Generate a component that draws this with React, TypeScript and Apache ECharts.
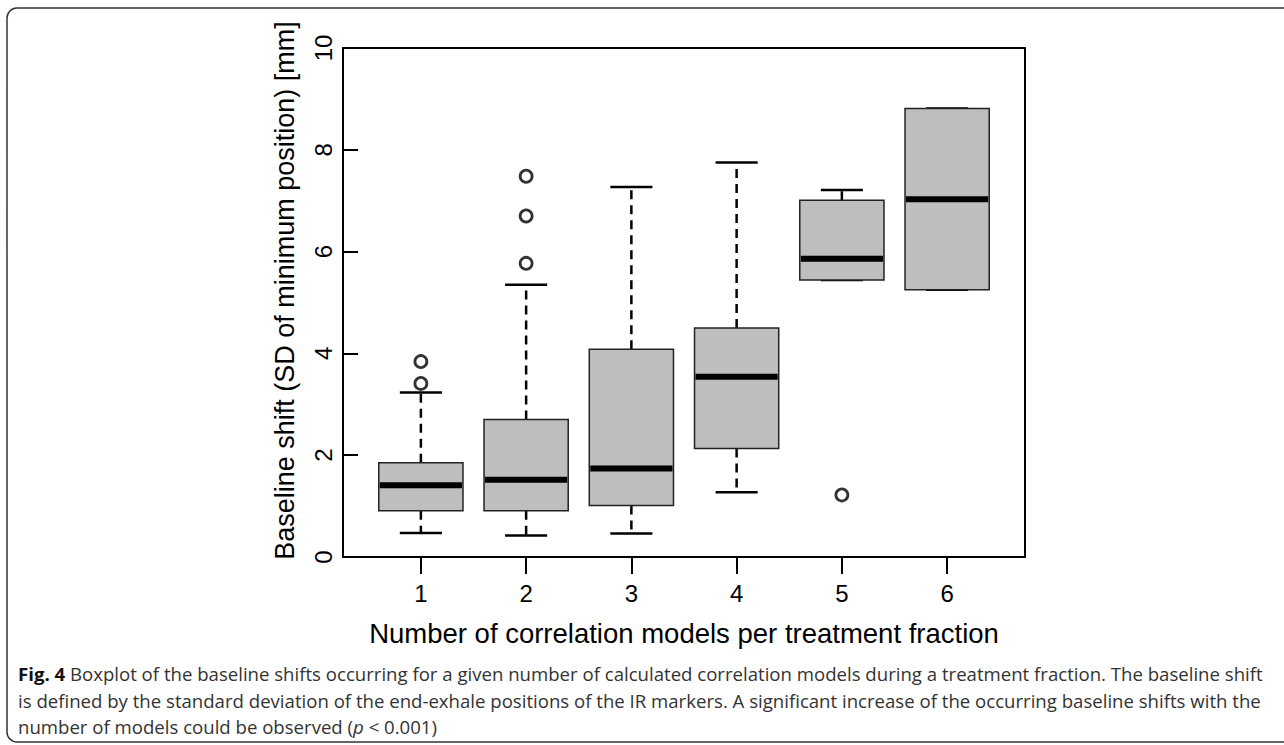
import React, { useEffect, useRef } from "react";
import * as echarts from "echarts";

const categories = [1, 2, 3, 4, 5, 6];
const lowerWhisker = [0.47, 0.42, 0.46, 1.27, 5.44, 5.25];
const q1Values = [0.91, 0.91, 1.01, 2.13, 5.44, 5.25];
const medians = [1.41, 1.52, 1.74, 3.54, 5.86, 7.03];
const q3Values = [1.85, 2.7, 4.08, 4.5, 7.01, 8.81];
const upperWhisker = [3.23, 5.35, 7.27, 7.75, 7.21, 8.81];
const outlierCats = [1, 1, 2, 2, 2, 5];
const outlierValues = [3.41, 3.84, 5.77, 6.7, 7.48, 1.22];
const xTickLabels = [1, 2, 3, 4, 5, 6];

const xAxisTitle = "Number of correlation models per treatment fraction";
const yAxisTitle = "Baseline shift (SD of minimum position) [mm]";
const captionLine1 =
  "{b|Fig. 4} Boxplot of the baseline shifts occurring for a given number of calculated correlation models during a treatment fraction. The baseline shift";
const captionLine2 =
  "is defined by the standard deviation of the end-exhale positions of the IR markers. A significant increase of the occurring baseline shifts with the";
const captionLine3 = "number of models could be observed ({i|p} < 0.001)";

function renderBox(params: any, api: any) {
  const x = api.value(0);
  const lo = api.coord([x, api.value(1)]);
  const b1 = api.coord([x, api.value(2)]);
  const md = api.coord([x, api.value(3)]);
  const b3 = api.coord([x, api.value(4)]);
  const hi = api.coord([x, api.value(5)]);
  const boxW = api.size([0.8, 0])[0];
  const capW = boxW / 2;
  const cx = md[0];
  const dashed = { stroke: "#000", lineWidth: 2.5, lineDash: [9, 6] };
  const solid = { stroke: "#000", lineWidth: 2.5 };
  return {
    type: "group",
    children: [
      { type: "line", shape: { x1: cx, y1: b3[1], x2: cx, y2: hi[1] }, style: dashed },
      { type: "line", shape: { x1: cx, y1: b1[1], x2: cx, y2: lo[1] }, style: dashed },
      { type: "line", shape: { x1: cx - capW / 2, y1: hi[1], x2: cx + capW / 2, y2: hi[1] }, style: solid },
      { type: "line", shape: { x1: cx - capW / 2, y1: lo[1], x2: cx + capW / 2, y2: lo[1] }, style: solid },
      {
        type: "rect",
        shape: { x: cx - boxW / 2, y: b3[1], width: boxW, height: b1[1] - b3[1] },
        style: { fill: "#bebebe", stroke: "#222", lineWidth: 1.5 },
      },
      {
        type: "line",
        shape: { x1: cx - boxW / 2 + 1, y1: md[1], x2: cx + boxW / 2 - 1, y2: md[1] },
        style: { stroke: "#000", lineWidth: 6 },
      },
    ],
  };
}

export default function App() {
  const ref = useRef<HTMLDivElement>(null);
  useEffect(() => {
    if (!ref.current) return;
    const chart = echarts.init(ref.current, null, { renderer: "svg" });
    const boxData = categories.map((c, i) => [
      c,
      lowerWhisker[i],
      q1Values[i],
      medians[i],
      q3Values[i],
      upperWhisker[i],
    ]);
    const outlierData = outlierCats.map((c, i) => [c, outlierValues[i]]);
    const axisFont = "'Liberation Sans', Arial, sans-serif";
    const capFont = "'Open Sans', sans-serif";
    const capSize = 18.6;
    chart.setOption({
      animation: false,
      backgroundColor: "#fff",
      grid: { left: 343, top: 48, width: 682, height: 509, show: true, borderColor: "#000", borderWidth: 2 },
      xAxis: {
        type: "value",
        min: 0.26,
        max: 6.74,
        name: xAxisTitle,
        nameLocation: "middle",
        nameGap: 62,
        nameTextStyle: { fontSize: 27.5, color: "#000", fontFamily: axisFont },
        axisLine: { show: true, onZero: false, lineStyle: { color: "#000", width: 2 } },
        axisTick: { show: true, customValues: xTickLabels, length: 17, lineStyle: { color: "#000", width: 2 } },
        axisLabel: { customValues: xTickLabels, fontSize: 24, color: "#000", fontFamily: axisFont, margin: 24 },
        splitLine: { show: false },
      },
      yAxis: {
        type: "value",
        min: 0,
        max: 10,
        interval: 2,
        name: yAxisTitle,
        nameLocation: "middle",
        nameRotate: 90,
        nameGap: 45,
        nameTextStyle: { fontSize: 27, color: "#000", fontFamily: axisFont, padding: [0, 0, 0, 24] },
        axisLine: { show: true, lineStyle: { color: "#000", width: 2 } },
        axisTick: { show: true, inside: true, length: 15, lineStyle: { color: "#000", width: 2 } },
        axisLabel: { rotate: 90, fontSize: 24, color: "#000", fontFamily: axisFont, margin: 8 },
        splitLine: { show: false },
      },
      series: [
        {
          type: "custom",
          renderItem: renderBox,
          data: boxData,
          encode: { x: 0, y: [1, 2, 3, 4, 5] },
          z: 2,
        },
        {
          type: "scatter",
          data: outlierData,
          symbol: "circle",
          symbolSize: 12,
          itemStyle: { color: "rgba(0,0,0,0)", borderColor: "#000", borderWidth: 2.8 },
          z: 3,
        },
      ],
      graphic: [
        {
          type: "rect",
          shape: { x: 7, y: 8, width: 1290, height: 734, r: 10 },
          style: { fill: "none", stroke: "#333", lineWidth: 1.5 },
          silent: true,
        },
        {
          type: "text",
          x: 18,
          y: 673,
          style: {
            text: captionLine1,
            fontSize: capSize,
            fontFamily: capFont,
            fill: "#333",
            verticalAlign: "middle",
            rich: { b: { fontWeight: "bold", fontSize: capSize, fontFamily: capFont, fill: "#111" } },
          },
        },
        {
          type: "text",
          x: 18,
          y: 700,
          style: {
            text: captionLine2,
            fontSize: capSize,
            fontFamily: capFont,
            fill: "#333",
            verticalAlign: "middle",
          },
        },
        {
          type: "text",
          x: 18,
          y: 726,
          style: {
            text: captionLine3,
            fontSize: capSize,
            fontFamily: capFont,
            fill: "#333",
            verticalAlign: "middle",
            rich: { i: { fontStyle: "italic", fontSize: capSize, fontFamily: capFont, fill: "#333" } },
          },
        },
      ],
    });
    return () => chart.dispose();
  }, []);
  return <div ref={ref} style={{ position: "fixed", left: 0, top: 0, width: 1284, height: 745 }} />;
}
